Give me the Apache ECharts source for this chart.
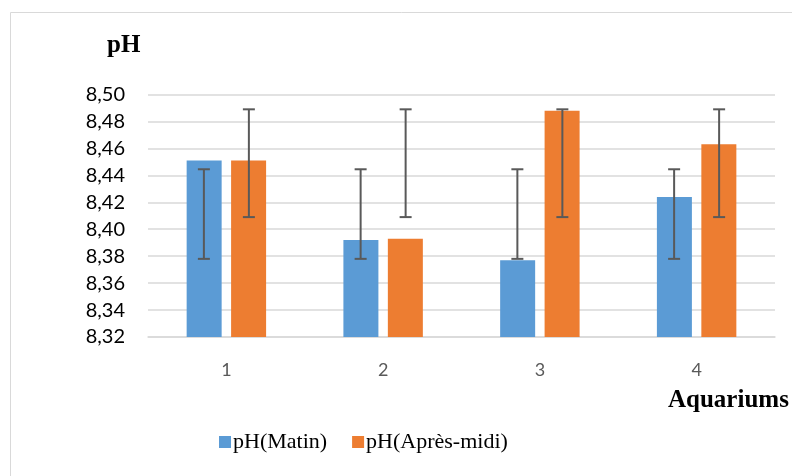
<!DOCTYPE html>
<html><head><meta charset="utf-8">
<script src="https://cdn.jsdelivr.net/npm/echarts@6/dist/echarts.min.js"></script>
<style>html,body{margin:0;padding:0;background:#fff}#c{width:792px;height:476px}</style>
</head><body><div id="c"></div>
<script>
const categories = ['1', '2', '3', '4'];
const matin = [8.451, 8.392, 8.377, 8.424];
const apresMidi = [8.451, 8.393, 8.488, 8.463];
const matinErrLow = [8.378, 8.378, 8.378, 8.378];
const matinErrHigh = [8.4445, 8.4445, 8.4445, 8.4445];
const apresErrLow = [8.409, 8.409, 8.409, 8.409];
const apresErrHigh = [8.489, 8.489, 8.489, 8.489];
const yMin = 8.32, yMax = 8.50, yStep = 0.02;

const chart = echarts.init(document.getElementById('c'), null, {renderer: 'canvas'});
function errSeries(low, high, offset) {
  return {
    type: 'custom', z: 10, silent: true,
    data: categories.map((c, i) => [i, low[i], high[i]]),
    encode: {x: 0, y: [1, 2]},
    renderItem: function (params, api) {
      const a = api.coord([api.value(0), api.value(1)]);
      const b = api.coord([api.value(0), api.value(2)]);
      const x = a[0] + offset, cw = 6;
      const st = {stroke: '#595959', lineWidth: 2};
      return {type: 'group', children: [
        {type: 'line', shape: {x1: x, y1: a[1], x2: x, y2: b[1]}, style: st},
        {type: 'line', shape: {x1: x - cw, y1: a[1], x2: x + cw, y2: a[1]}, style: st},
        {type: 'line', shape: {x1: x - cw, y1: b[1], x2: x + cw, y2: b[1]}, style: st}
      ]};
    }
  };
}
chart.setOption({
  animation: false,
  graphic: [
    {type: 'rect', shape: {x: 10.5, y: 12.5, width: 800, height: 500}, style: {fill: 'none', stroke: '#d9d9d9', lineWidth: 1}},
    {type: 'text', left: 107, top: 33, style: {text: 'pH', font: 'bold 25px "Liberation Serif"', fill: '#000'}},
    {type: 'text', left: 668, top: 388, style: {text: 'Aquariums', font: 'bold 25px "Liberation Serif"', fill: '#000'}}
  ],
  grid: {left: 148, right: 17, top: 94.5, bottom: 139},
  legend: {
    top: 431, left: 219, padding: 0, itemWidth: 12, itemHeight: 12, itemGap: 25,
    icon: 'rect',
    textStyle: {fontFamily: 'Liberation Serif', fontSize: 22, color: '#000', padding: [0, 0, 0, -3]},
    data: ['pH(Matin)', 'pH(Après-midi)']
  },
  xAxis: {
    type: 'category', data: categories,
    axisLine: {lineStyle: {color: '#d9d9d9', width: 1.5}},
    axisTick: {show: false},
    axisLabel: {color: '#595959', fontFamily: 'Lato', fontSize: 18, margin: 24}
  },
  yAxis: {
    type: 'value', min: yMin, max: yMax, interval: yStep,
    axisLine: {show: false}, axisTick: {show: false},
    splitLine: {lineStyle: {color: '#d9d9d9', width: 1.5}},
    axisLabel: {color: '#000', fontFamily: 'Lato', fontSize: 20, margin: 23,
      formatter: v => v.toFixed(2).replace('.', ',')}
  },
  series: [
    {name: 'pH(Matin)', type: 'bar', data: matin, barWidth: 35, barGap: '27%',
     itemStyle: {color: '#5b9bd5'}},
    {name: 'pH(Après-midi)', type: 'bar', data: apresMidi, barWidth: 35, barGap: '27%',
     itemStyle: {color: '#ed7d31'}},
    errSeries(matinErrLow, matinErrHigh, -22.5),
    errSeries(apresErrLow, apresErrHigh, 22.5)
  ]
});
</script></body></html>
